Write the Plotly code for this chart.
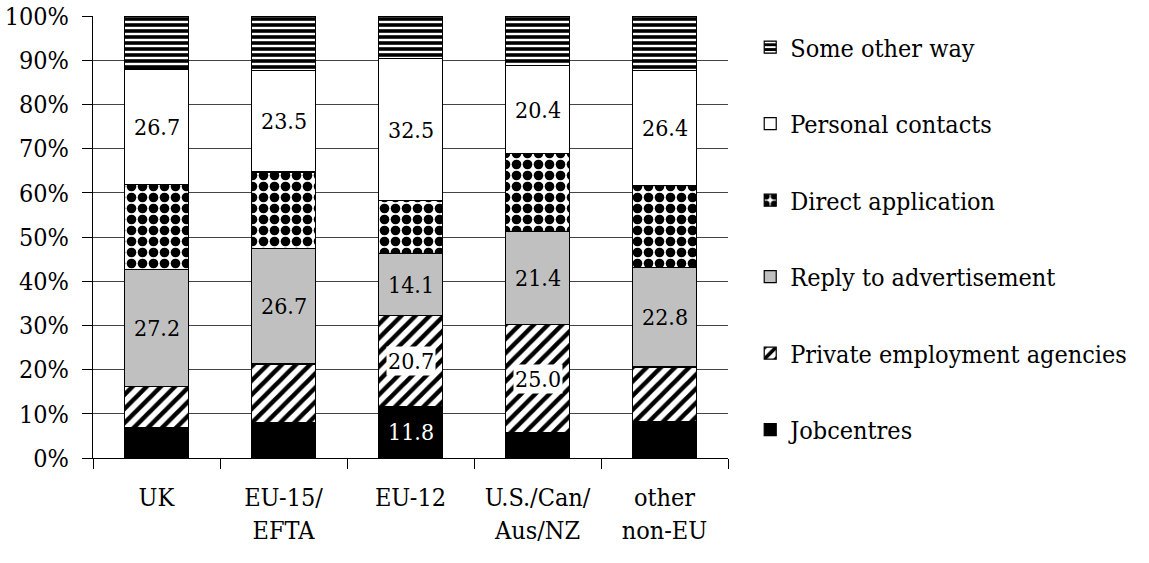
import plotly.graph_objects as go
import numpy as np

categories = ["UK", "EU-15/<br>EFTA", "EU-12", "U.S./Can/<br>Aus/NZ", "other<br>non-EU"]

series_names = ["Jobcentres", "Private employment agencies", "Reply to advertisement",
                "Direct application", "Personal contacts", "Some other way"]

jobcentres = [7.0, 8.1, 11.8, 5.8, 8.4]
private_agencies = [9.5, 13.6, 20.7, 25.0, 12.5]
reply_advert = [27.2, 26.7, 14.1, 21.4, 22.8]
direct_application = [19.8, 17.6, 12.1, 18.0, 19.0]
personal_contacts = [26.7, 23.5, 32.5, 20.4, 26.4]
some_other_way = [12.3, 12.5, 9.7, 11.4, 12.5]

# labels printed on the chart (None = not shown)
labels_jobcentres = [None, None, "11.8", None, None]
labels_private = [None, None, "20.7", "25.0", None]
labels_reply = ["27.2", "26.7", "14.1", "21.4", "22.8"]
labels_direct = [None, None, None, None, None]
labels_personal = ["26.7", "23.5", "32.5", "20.4", "26.4"]
labels_other = [None, None, None, None, None]

all_series = [jobcentres, private_agencies, reply_advert, direct_application,
              personal_contacts, some_other_way]
all_labels = [labels_jobcentres, labels_private, labels_reply, labels_direct,
              labels_personal, labels_other]

FONT = "DejaVu Serif Condensed, DejaVu Serif, serif"

styles = [
    dict(color="black", pattern=None),
    dict(color="white", pattern=dict(shape="/", fgcolor="black", bgcolor="white",
                                     size=10, solidity=0.45, fgopacity=1)),
    dict(color="#C0C0C0", pattern=None),
    dict(color="white", pattern=dict(shape=".", fgcolor="black", bgcolor="white",
                                     size=11, solidity=0.6, fgopacity=1)),
    dict(color="white", pattern=None),
    dict(color="white", pattern=dict(shape="-", fgcolor="black", bgcolor="white",
                                     size=6, solidity=0.6, fgopacity=1)),
]

fig = go.Figure()
n_series = len(series_names)
for i, (name, vals, st) in enumerate(zip(series_names, all_series, styles)):
    marker = dict(color=st["color"], line=dict(color="black", width=1.2))
    if st["pattern"] is not None:
        marker["pattern"] = st["pattern"]
    fig.add_trace(go.Bar(x=categories, y=vals, name=name, marker=marker,
                         legendgroup=name, legendrank=(n_series - i) * 100))

# annotations at segment centres (normalised to 100%)
arr = np.array(all_series)
tot = arr.sum(axis=0)
pct = arr / tot * 100
cum = np.cumsum(pct, axis=0)
annotations = []
for i, labs in enumerate(all_labels):
    for j, lab in enumerate(labs):
        if lab is None:
            continue
        yc = cum[i, j] - pct[i, j] / 2
        ann = dict(x=categories[j], y=yc, text=lab, showarrow=False,
                   font=dict(family=FONT, size=23,
                             color="white" if i == 0 else "black"))
        if i == 1:
            ann["bgcolor"] = "white"
            ann["borderpad"] = 1
        annotations.append(ann)

fig.update_layout(
    width=1149, height=563,
    barmode="stack", barnorm="percent", bargap=0.49,
    plot_bgcolor="white", paper_bgcolor="white",
    margin=dict(l=93, r=421, t=16, b=105, autoexpand=False),
    font=dict(family=FONT, size=25, color="black"),
    annotations=annotations,
    legend=dict(x=1.035, xanchor="left", y=0.981, yanchor="top",
                traceorder="grouped", tracegroupgap=41,
                font=dict(family=FONT, size=25, color="black"),
                bgcolor="rgba(0,0,0,0)"),
    showlegend=True,
)
fig.update_yaxes(range=[0, 100], dtick=10, ticksuffix="%", showgrid=True,
                 gridcolor="#444444", gridwidth=1, showline=True, linecolor="black",
                 linewidth=1, ticks="outside", ticklen=10, tickcolor="black",
                 ticklabelstandoff=8, ticklabeloverflow="allow",
                 zeroline=False, automargin=False, tickfont=dict(family=FONT, size=25))
fig.update_xaxes(showline=True, linecolor="black", linewidth=1, ticks="outside",
                 tickson="boundaries", ticklen=10, tickcolor="black", automargin=False,
                 ticklabelstandoff=17, ticklabeloverflow="allow", tickangle=0,
                 tickfont=dict(family=FONT, size=25))

fig.write_html("out.html", config={"displayModeBar": False},
               post_script="document.body.style.margin='0';")
